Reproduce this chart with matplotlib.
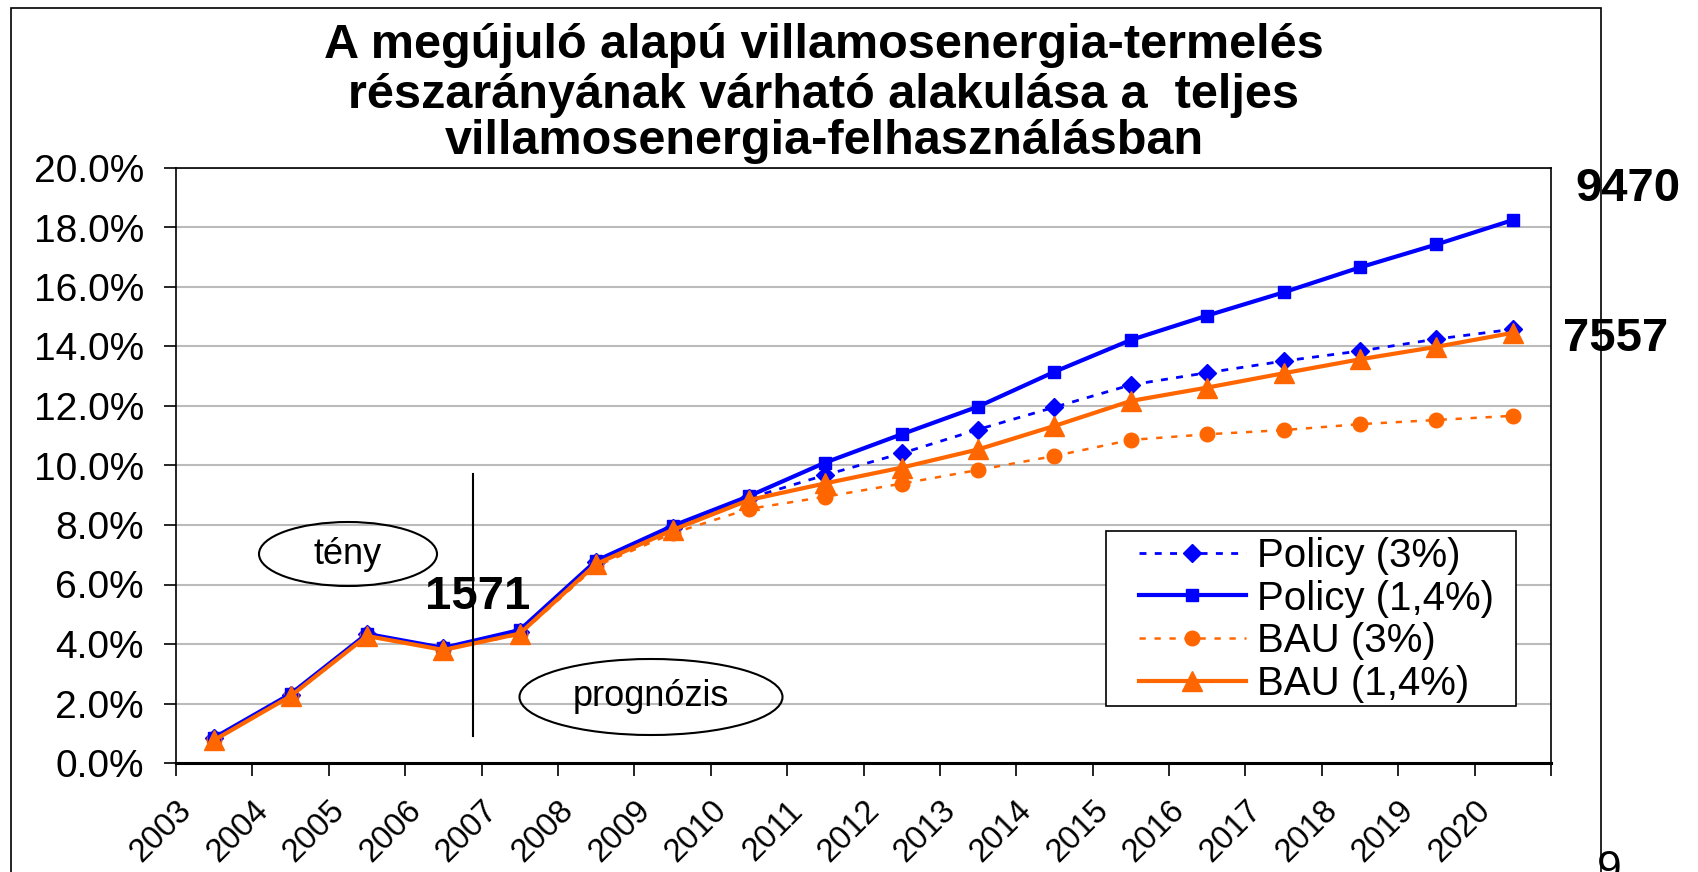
import matplotlib
matplotlib.use("Agg")
import matplotlib.pyplot as plt
from matplotlib.patches import Ellipse, Rectangle
from matplotlib.lines import Line2D
from matplotlib.ticker import FuncFormatter

W, H = 1698, 872

years = [str(y) for y in range(2003, 2021)]
policy_3 = [0.83, 2.30, 4.32, 3.85, 4.42, 6.75, 7.90, 8.90, 9.68, 10.41, 11.21, 11.96,
            12.71, 13.12, 13.51, 13.85, 14.25, 14.58]
policy_14 = [0.85, 2.32, 4.34, 3.87, 4.47, 6.80, 7.97, 8.97, 10.10, 11.05, 11.98, 13.15,
             14.22, 15.04, 15.82, 16.66, 17.43, 18.25]
bau_3 = [0.78, 2.26, 4.26, 3.80, 4.32, 6.62, 7.72, 8.54, 8.95, 9.39, 9.85, 10.32,
         10.86, 11.05, 11.19, 11.39, 11.53, 11.67]
bau_14 = [0.77, 2.25, 4.27, 3.80, 4.35, 6.69, 7.83, 8.84, 9.40, 9.93, 10.54, 11.33,
          12.17, 12.62, 13.10, 13.57, 13.99, 14.46]

BLUE = "#0000FF"
ORANGE = "#FF6600"

plt.rcParams["font.family"] = ["Liberation Sans", "DejaVu Sans"]


def px(x, y):
    return x / W, 1 - y / H


fig = plt.figure(figsize=(W / 100, H / 100), dpi=100)
l, b = px(176, 763)
r, t = px(1551, 168)
ax = fig.add_axes([l, b, r - l, t - b])

xs = [i + 0.5 for i in range(len(years))]
ax.plot(xs, policy_3, color=BLUE, lw=2, ls=(0, (2.5, 3)), marker="D", ms=9,
        label="Policy (3%)", zorder=3)
ax.plot(xs, policy_14, color=BLUE, lw=3, marker="s", ms=9,
        label="Policy (1,4%)", zorder=4)
ax.plot(xs, bau_3, color=ORANGE, lw=1.8, ls=(0, (2.5, 3.5)), marker="o", ms=10.5,
        label="BAU (3%)", zorder=3)
ax.plot(xs, bau_14, color=ORANGE, lw=3, marker="^", ms=15,
        label="BAU (1,4%)", zorder=5)

ax.set_xlim(0, len(years))
ax.set_ylim(0, 20)
ax.set_yticks(range(0, 21, 2))
ax.yaxis.set_major_formatter(FuncFormatter(lambda v, p: f"{v:.1f}%"))
ax.set_xticks(range(len(years) + 1))
ax.set_xticklabels(years + [""], rotation=45, ha="right", va="top",
                   rotation_mode="anchor")
ax.tick_params(axis="both", length=9, width=1.2, direction="out")
ax.tick_params(axis="x", labelsize=23.5, pad=14)
ax.tick_params(axis="y", labelsize=28, pad=14)
ax.grid(axis="y", color="#BBBBBB", lw=1.5)
ax.set_axisbelow(True)
for s in ax.spines.values():
    s.set_color("black")
    s.set_linewidth(1.2)
ax.spines["bottom"].set_linewidth(2.2)

# legend: content placed by anchor, frame drawn separately
leg = ax.legend(loc="center left", bbox_to_anchor=px(1139, 620), bbox_transform=fig.transFigure,
                borderaxespad=0, borderpad=0, fontsize=29, frameon=False,
                handlelength=2.65, labelspacing=0.12, handletextpad=0.27)
fx0, fy0 = px(1106, 706)
fx1, fy1 = px(1516, 531)
ax.add_patch(Rectangle((fx0, fy0), fx1 - fx0, fy1 - fy0, transform=fig.transFigure,
                       facecolor="white", edgecolor="black", lw=1.2, zorder=5.5))
leg.set_zorder(6)

# title
for (cy, line) in [(46, "A megújuló alapú villamosenergia-termelés"),
                   (95, "részarányának várható alakulása a  teljes"),
                   (141, "villamosenergia-felhasználásban")]:
    fig.text(*px(824, cy), line, ha="center", va="center", fontsize=35, fontweight="bold")

# outer chart border
x0, y0 = px(11, 8)
x1, _ = px(1601, 0)
fig.add_artist(Rectangle((x0, -0.05), x1 - x0, y0 + 0.05, transform=fig.transFigure,
                         fill=False, edgecolor="black", lw=1.2))

# annotations
for (cx, cy, w, h, txt) in [(348, 554, 178, 64, "tény"), (651, 697, 263, 76, "prognózis")]:
    ex, ey = px(cx, cy)
    fig.add_artist(Ellipse((ex, ey), w / W, h / H, transform=fig.transFigure,
                           fill=False, edgecolor="black", lw=1.5))
    fig.text(ex, ey, txt, ha="center", va="center", fontsize=26)

fig.add_artist(Line2D([473 / W, 473 / W], [1 - 474 / H, 1 - 736 / H],
                      transform=fig.transFigure, color="black", lw=1.5))

for (cx, cy, txt) in [(478, 597, "1571"), (1628, 189, "9470"), (1616, 339, "7557")]:
    fig.text(*px(cx, cy), txt, ha="center", va="center", fontsize=34, fontweight="bold")
fig.text(*px(1597, 850), "9", ha="left", va="top", fontsize=32)

fig.savefig("out.png", dpi=100)
